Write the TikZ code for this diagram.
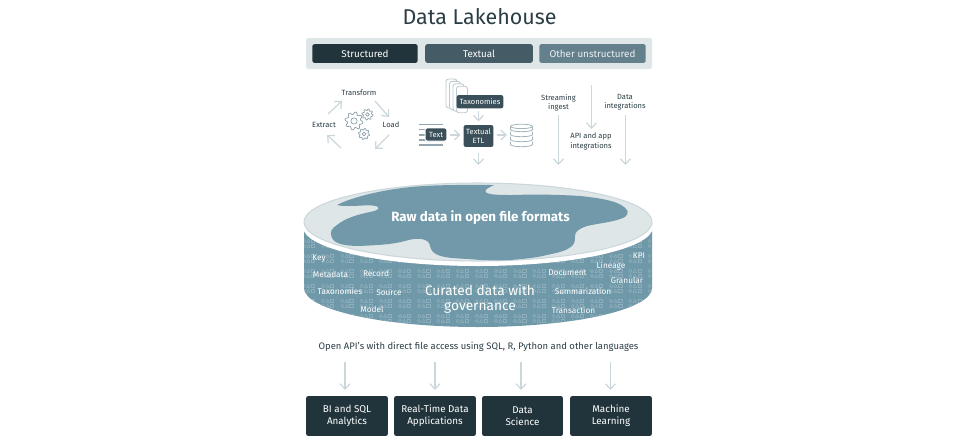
\documentclass[tikz,border=0pt]{standalone}
\usepackage{fontspec}
\setmainfont{Fira Sans}
\usetikzlibrary{arrows.meta}

\definecolor{inkdark}{HTML}{21343C}
\definecolor{inkmid}{HTML}{455B66}
\definecolor{inklight}{HTML}{64808C}
\definecolor{bandgrey}{HTML}{DFE6E8}
\definecolor{arrowgrey}{HTML}{CBD7DB}
\definecolor{titleink}{HTML}{2B3D45}
\definecolor{lake}{HTML}{7199A9}
\definecolor{lakebody}{HTML}{6F98A8}
\definecolor{lakeglyph}{HTML}{8DAEBB}

\newcommand{\fsize}[1]{\fontsize{#1}{1.2\dimexpr#1pt\relax}\selectfont}

\tikzset{
  box/.style={fill=#1, rounded corners=1.2pt, text=white, align=center, inner sep=0pt, font=\fsize{5.6}},
  flow/.style={draw=arrowgrey, line width=0.7pt, -{Straight Barb[length=3pt,width=5.6pt]}},
  lbl/.style={text=titleink, align=center, inner sep=0pt, font=\fsize{4.3}},
  tag/.style={text=white, inner sep=0pt, font=\fsize{4.7}},
  gearline/.style={draw=inklight!75!white, line width=0.4pt, fill=white},
}

\begin{document}
\begin{tikzpicture}[x=0.02cm,y=-0.02cm,line join=round]
\useasboundingbox (0,0) rectangle (959,443);

% Title and the band of source types
\node[inner sep=0pt, text=titleink, font=\fsize{12.2}] (title) at (479.5,17) {Data Lakehouse};
\fill[bandgrey, rounded corners=1pt] (306,38) rectangle (652,69);
\node[box=inkdark, minimum width=60pt, minimum height=10.6pt] (structured) at (365,53.5) {Structured};
\node[box=inkmid, minimum width=61.2pt, minimum height=10.6pt] (textual) at (479,53.5) {Textual};
\node[box=inklight, minimum width=60.6pt, minimum height=10.6pt, text=white!90!inklight] (other) at (592.5,53.5) {Other unstructured};

% ETL cycle
\node[lbl] (transform) at (359,92.5) {Transform};
\node[lbl] (extract) at (324,125) {Extract};
\node[lbl] (load) at (391,125) {Load};
\coordinate (c1) at (328,114); \coordinate (c2) at (342,101);
\coordinate (c3) at (375,101); \coordinate (c4) at (389,117);
\coordinate (c5) at (389,135); \coordinate (c6) at (375,149);
\coordinate (c7) at (341,148); \coordinate (c8) at (327,135);
\draw[flow] (c1) -- (c2);
\draw[flow] (c3) -- (c4);
\draw[flow] (c5) -- (c6);
\draw[flow] (c7) -- (c8);

% Gears
\foreach \gx/\gy/\gr in {354/121/7.8, 367.5/114.5/4.8, 364/134/4.8} {
  \draw[gearline] plot[domain=0:360, samples=73, smooth cycle] ({\gx+\gr*(1+0.17*sin(8*\x))*cos(\x)},{\gy+\gr*(1+0.17*sin(8*\x))*sin(\x)});
  \draw[gearline] (\gx,\gy) circle[radius=\gr*0.4];
}

% Textual ETL
\foreach \i in {0,1,2,3} {
  \draw[draw=arrowgrey!85!inklight, fill=white, line width=0.5pt, rounded corners=1.5pt] (446+3.5*\i,79+2.4*\i) rectangle (457+3.5*\i,108+1.6*\i);
}
\node[box=inkmid, fill=inkmid!70!inkdark, minimum width=26.5pt, minimum height=7.6pt, font=\fsize{4.3}] (taxonomies) at (480,101.7) {Taxonomies};
\foreach \ly in {124.5,129.5,134.8,140,145} {
  \draw[inklight!70!white, line width=1.1pt] (419,\ly) -- (443,\ly);
}
\node[box=inkmid, fill=inkmid!70!inkdark, draw=white, line width=0.5pt, minimum width=12.4pt, minimum height=7.4pt, font=\fsize{4.3}] (text) at (436,134.5) {Text};
\node[box=inkmid, fill=inkmid!70!inkdark, minimum width=17pt, minimum height=12.4pt, font=\fsize{4.3}] (etl) at (478.5,136) {Textual\\ETL};

% Database stack
\fill[white] (510,124) rectangle (533,147);
\foreach \dy in {144.5,139.5,134.5,129.5} {
  \draw[draw=inklight!60!white, fill=white, line width=0.45pt] (510.5,\dy-3) -- (510.5,\dy) arc[start angle=180, end angle=0, x radius=11, y radius=2.2] -- (532.5,\dy-3);
}
\draw[draw=inklight!60!white, fill=white, line width=0.45pt] (521.5,126.4) ellipse[x radius=11, y radius=2.2];
\coordinate (db) at (510,135);

\coordinate (t1) at (478.5,111); \coordinate (t2) at (478.5,121.5);
\coordinate (e1) at (450,135); \coordinate (e2) at (460.5,135);
\coordinate (e3) at (497,135); \coordinate (e4) at (507,135);
\coordinate (e5) at (478.5,153); \coordinate (e6) at (478.5,165);
\draw[flow] (t1) -- (t2);
\draw[flow] (e1) -- (e2);
\draw[flow] (e3) -- (e4);
\draw[flow] (e5) -- (e6);

% Other feeds
\node[lbl] (streaming) at (558.5,102.5) {Streaming\\ingest};
\node[lbl] (api) at (591,141.5) {API and app\\integrations};
\node[lbl] (integrations) at (625,102.5) {Data\\integrations};
\coordinate (s1) at (558.5,115); \coordinate (s2) at (558.5,165);
\coordinate (a1) at (591.5,85); \coordinate (a2) at (591.5,129);
\coordinate (d1) at (625.5,115); \coordinate (d2) at (625.5,165);
\draw[flow] (s1) -- (s2);
\draw[flow] (a1) -- (a2);
\draw[flow] (d1) -- (d2);

% Disk body with its glyph pattern
\begin{scope}
\clip (304,222) -- (304,288) arc[start angle=180, end angle=0, x radius=174, y radius=39] -- (652,222) -- cycle;
\fill[lakebody] (300,220) rectangle (656,330);
\foreach \row in {0,...,7} {
  \foreach \col in {0,...,18} {
    \pgfmathsetmacro{\px}{304+19.2*\col}
    \pgfmathsetmacro{\py}{226+15*\row}
    \foreach \sub in {0,5} {
      \draw[lakeglyph, line width=0.35pt] (\px,\py+\sub) circle[radius=1.6];
      \draw[lakeglyph, line width=0.35pt] (\px+2.6,\py+\sub+1.6) -- (\px+4.4,\py+\sub-1.6) -- (\px+6.2,\py+\sub+1.6) -- cycle;
      \draw[lakeglyph, line width=0.35pt] (\px+7.4,\py+\sub-1.6) rectangle (\px+10.6,\py+\sub+1.6);
    }
  }
}
\end{scope}

% Disk top
\fill[white] (478,227) ellipse[x radius=175, y radius=39];
\draw[draw=arrowgrey, fill=bandgrey, line width=0.6pt] (478,222) ellipse[x radius=174, y radius=39];
\fill[lake] (337,205) .. controls (350,198) and (385,188) .. (425,186)
  .. controls (450,184.5) and (475,185) .. (494,185)
  .. controls (490,187) and (483,190) .. (486,192.5)
  .. controls (490,195) and (500,195) .. (513,195)
  .. controls (540,194) and (565,195) .. (580,196)
  .. controls (600,198) and (615,201) .. (621,205)
  .. controls (628,209) and (630,213) .. (625,217)
  .. controls (615,222) and (600,223) .. (587,226)
  .. controls (578,229) and (575,232) .. (575,236)
  .. controls (575,240) and (575,243) .. (572,246)
  .. controls (565,252) and (555,253) .. (547,255)
  .. controls (535,258) and (522,259) .. (510,260)
  .. controls (495,261) and (480,260) .. (468,259)
  .. controls (452,258) and (440,258) .. (433,252)
  .. controls (429,248) and (431,243) .. (427,241)
  .. controls (420,237) and (412,239) .. (405,241)
  .. controls (390,245) and (375,245) .. (360,246)
  .. controls (345,246) and (335,244) .. (332,238)
  .. controls (329,232) and (332,228) .. (337,225)
  .. controls (345,218) and (360,214) .. (370,212)
  .. controls (376,211) and (380,209) .. (378,207)
  .. controls (374,204) and (360,206) .. (350,206)
  .. controls (345,206) and (340,206) .. (337,205) -- cycle;
\node[inner sep=0pt, text=white, font=\fsize{7.6}\bfseries] (raw) at (480.5,217.5) {Raw data in open file formats};

% Labels on the disk body
\node[inner sep=0pt, text=white, align=center, font=\fsize{7.8}] (curated) at (480,299) {Curated data with\\[-0.9pt]governance};
\node[tag] (key) at (319,258.5) {Key};
\node[tag] (metadata) at (330.5,274.5) {Metadata};
\node[tag] (record) at (376,273.5) {Record};
\node[tag] (taxonomy) at (340,291.5) {Taxonomies};
\node[tag] (source) at (389,292.5) {Source};
\node[tag] (model) at (372,309.5) {Model};
\node[tag] (kpi) at (639,256) {KPI};
\node[tag] (lineage) at (611,266.5) {Lineage};
\node[tag] (document) at (567.5,273) {Document};
\node[tag] (granular) at (627,280) {Granular};
\node[tag] (summarization) at (583,291.5) {Summarization};
\node[tag] (transaction) at (573.5,310.5) {Transaction};

% Open APIs and the consumers
\node[inner sep=0pt, text=titleink, font=\fsize{5.38}] (apis) at (478.5,347) {Open API’s with direct file access using SQL, R, Python and other languages};
\node[box=inkdark, minimum width=46.5pt, minimum height=22.7pt] (bi) at (347,416) {BI and SQL\\Analytics};
\node[box=inkdark, minimum width=46.5pt, minimum height=22.7pt] (realtime) at (435,416) {Real-Time Data\\Applications};
\node[box=inkdark, minimum width=46pt, minimum height=22.7pt] (science) at (522.5,416) {Data\\Science};
\node[box=inkdark, minimum width=46.5pt, minimum height=22.7pt] (ml) at (611,416) {Machine\\Learning};
\foreach \ax/\nm in {345/bi,435/realtime,521/science,610.5/ml} {
  \coordinate (top\nm) at (\ax,362);
  \coordinate (end\nm) at (\ax,390);
  \draw[flow] (top\nm) -- (end\nm);
}
\end{tikzpicture}
\end{document}
